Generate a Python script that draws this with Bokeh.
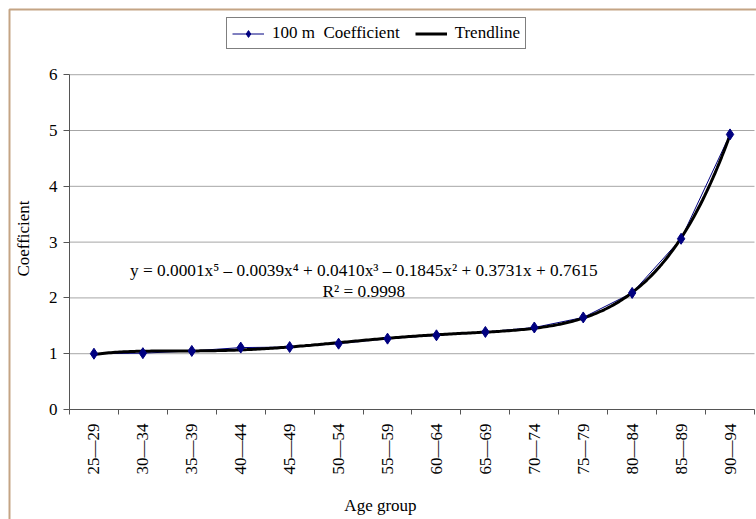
import numpy as np
from bokeh.plotting import figure
from bokeh.models import (FixedTicker, Legend, LegendItem, Label,
                          ColumnDataSource)
from bokeh.embed import file_html
from bokeh.resources import INLINE

# ---- data ----
age_groups = ["25—29", "30—34", "35—39", "40—44", "45—49", "50—54", "55—59",
              "60—64", "65—69", "70—74", "75—79", "80—84", "85—89", "90—94"]
coefficients = [1.00, 1.01, 1.05, 1.11, 1.12, 1.18, 1.27,
                1.33, 1.39, 1.47, 1.65, 2.09, 3.06, 4.93]
y_ticks = [0, 1, 2, 3, 4, 5, 6]
equation_text = "y = 0.0001x⁵ – 0.0039x⁴ + 0.0410x³ – 0.1845x² + 0.3731x + 0.7615"
r2_text = "R² = 0.9998"
series_label = "100 m  Coefficient"
trend_label = "Trendline"
x_title = "Age group"
y_title = "Coefficient"

FONT = "Liberation Serif, serif"
n = len(age_groups)
xpos = np.arange(n) + 0.5
src = ColumnDataSource(dict(x=xpos, y=coefficients, age=age_groups))

# 5th-order polynomial trendline fitted to the series
idx = np.arange(1, n + 1)
coef = np.polyfit(idx, coefficients, 5)
tt = np.linspace(1, n, 300)
trend_src = ColumnDataSource(dict(x=tt - 0.5, y=np.polyval(coef, tt)))

# The frame spans the whole canvas; axes are pinned at x=0 / y=0 and bounded,
# so titles, legend and the chart-area border can sit around the plot area.
X0, X1, Y0, Y1 = -1.410, 14.041, -1.971, 7.330
p = figure(width=756, height=519, output_backend="svg", toolbar_location=None,
           x_range=(X0, X1), y_range=(Y0, Y1),
           min_border_left=0, min_border_right=0, min_border_top=0,
           min_border_bottom=0)
p.background_fill_color = "white"
p.border_fill_color = "white"
p.outline_line_color = None
p.xgrid.grid_line_color = None
p.ygrid.grid_line_color = None

# horizontal gridlines across the plot area only
grid_src = ColumnDataSource(dict(y=y_ticks[1:], x0=[0] * (len(y_ticks) - 1),
                                 x1=[n] * (len(y_ticks) - 1)))
p.segment(x0="x0", x1="x1", y0="y", y1="y", source=grid_src,
          line_color="#a6a6a6", line_width=1)

# chart-area border (tan; only its left and top edges fall inside the window)
BL, BT = -1.226, 7.168
p.line(x=[BL, BL, X1 + 1], y=[Y0 - 1, BT, BT], line_color="#c4a484",
       line_width=2)

# axes
xa = p.xaxis[0]
xa.fixed_location = 0
xa.bounds = (0, n)
xa.ticker = FixedTicker(ticks=list(xpos), minor_ticks=list(range(n + 1)))
xa.major_label_overrides = {float(x): lab for x, lab in zip(xpos, age_groups)}
xa.major_tick_line_color = None
xa.minor_tick_line_color = "#555555"
xa.minor_tick_out = 5
xa.minor_tick_in = 0
xa.major_label_orientation = np.pi / 2
xa.major_label_standoff = 8
xa.major_label_text_font = FONT
xa.major_label_text_font_size = "17px"
xa.major_label_text_color = "black"
xa.axis_line_color = "#555555"

ya = p.yaxis[0]
ya.fixed_location = 0
ya.bounds = (0, 6)
ya.ticker = FixedTicker(ticks=y_ticks)
ya.major_tick_out = 6
ya.major_tick_in = 0
ya.minor_tick_line_color = None
ya.major_tick_line_color = "#555555"
ya.axis_line_color = "#555555"
ya.major_label_text_font = FONT
ya.major_label_text_font_size = "17px"
ya.major_label_text_color = "black"
ya.major_label_standoff = 6

# glyphs
r_line = p.line("x", "y", source=src, line_color="#000080", line_width=1)
r_trend = p.line("x", "y", source=trend_src, line_color="black", line_width=3)
r_pts = p.scatter("x", "y", source=src, marker="diamond", size=11,
                  fill_color="#000080", line_color="#000080")

legend = Legend(items=[LegendItem(label=series_label, renderers=[r_line, r_pts]),
                       LegendItem(label=trend_label, renderers=[r_trend])],
                location=(226, 470), orientation="horizontal",
                label_text_font=FONT, label_text_font_size="17px",
                label_text_color="black",
                border_line_color="black", border_line_width=1,
                background_fill_color="white", background_fill_alpha=1,
                padding=5, spacing=15, label_standoff=8, margin=0,
                glyph_width=32, glyph_height=17, label_height=17)
p.add_layout(legend, "center")

# equation labels
p.add_layout(Label(x=6.015, y=2.487, text=equation_text, text_align="center",
                   text_baseline="alphabetic", text_font=FONT,
                   text_font_size="17.3px", text_color="black"))
p.add_layout(Label(x=6.015, y=2.117, text=r2_text, text_align="center",
                   text_baseline="alphabetic", text_font=FONT,
                   text_font_size="17.3px", text_color="black"))

# axis titles
p.add_layout(Label(x=6.356, y=-1.720, text=x_title, text_align="center",
                   text_baseline="middle", text_font=FONT,
                   text_font_size="17px", text_color="black"))
p.add_layout(Label(x=-0.940, y=3.065, text=y_title, angle=np.pi / 2,
                   text_align="center", text_baseline="middle", text_font=FONT,
                   text_font_size="17px", text_color="black"))

open("out.html", "w").write(file_html(p, INLINE))
